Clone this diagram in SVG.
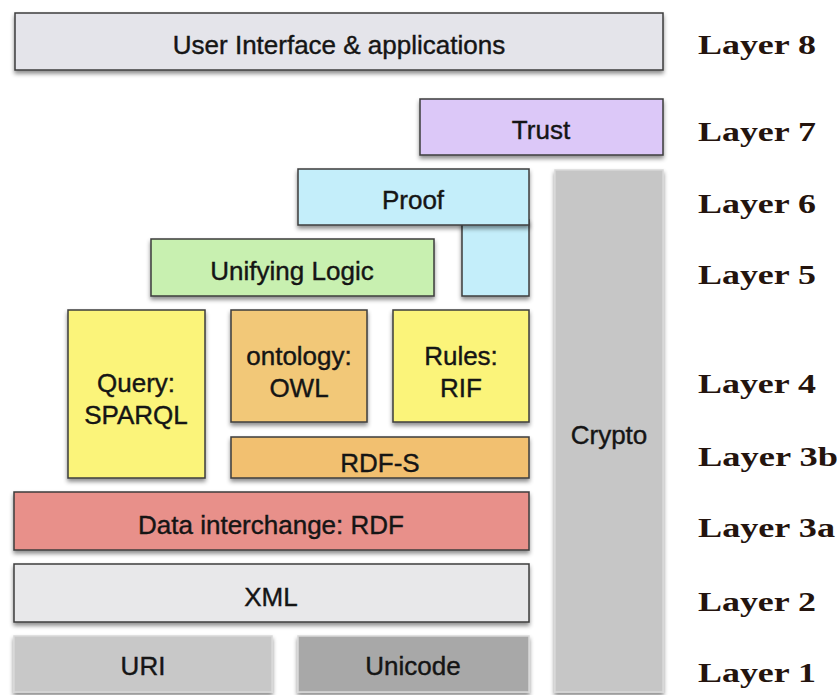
<svg xmlns="http://www.w3.org/2000/svg" width="837" height="695" viewBox="0 0 837 695">
<defs>
<filter id="sh" x="-10%" y="-20%" width="120%" height="150%">
<feDropShadow dx="0" dy="3" stdDeviation="2" flood-color="#000" flood-opacity="0.45"/>
</filter>
<style>
.b{stroke:#3c3c3c;stroke-width:1.5;filter:url(#sh)}
.l{stroke:#d8d8d8;stroke-width:1.5;filter:url(#sh)}
.t{font-family:"Liberation Sans",Arial,sans-serif;font-size:26px;fill:#151515;stroke:#151515;stroke-width:0.4;text-anchor:middle;dominant-baseline:central}
.lay{font-family:"Liberation Serif","Times New Roman",serif;font-weight:bold;font-size:28px;fill:#24140e;dominant-baseline:central}
</style>
</defs>
<rect width="837" height="695" fill="#fff"/>
<g id="ui"><rect class="b" x="15" y="13" width="648" height="57" fill="#e4e4ea"/><text class="t" x="339" y="45">User Interface &amp; applications</text></g>
<g id="trust"><rect class="b" x="420" y="99" width="243" height="56" fill="#dcc8f8"/><text class="t" x="541" y="130">Trust</text></g>
<g id="crypto"><rect class="l" x="555" y="170" width="108" height="522" fill="#c6c6c6"/><text class="t" x="609" y="435">Crypto</text></g>
<g id="proof"><rect class="b" x="462" y="220" width="67" height="76" fill="#c4eefa"/><rect class="b" x="298" y="169" width="231" height="56" fill="#c4eefa"/><text class="t" x="413" y="200">Proof</text></g>
<g id="logic"><rect class="b" x="151" y="239" width="283" height="57" fill="#c8f0b0"/><text class="t" x="292" y="271">Unifying Logic</text></g>
<g id="query"><rect class="b" x="68" y="310" width="137" height="168" fill="#fbf47a"/><text class="t" x="136" y="383">Query:</text><text class="t" x="136" y="415">SPARQL</text></g>
<g id="owl"><rect class="b" x="231" y="310" width="136" height="112" fill="#f2c878"/><text class="t" x="299" y="356">ontology:</text><text class="t" x="299" y="388">OWL</text></g>
<g id="rif"><rect class="b" x="393" y="310" width="136" height="112" fill="#fbf47a"/><text class="t" x="461" y="356">Rules:</text><text class="t" x="461" y="388">RIF</text></g>
<g id="rdfs"><rect class="b" x="231" y="437" width="298" height="41" fill="#f2c070"/><text class="t" x="380" y="463">RDF-S</text></g>
<g id="rdf"><rect class="b" x="14" y="492" width="515" height="58" fill="#e8908a"/><text class="t" x="271" y="525">Data interchange: RDF</text></g>
<g id="xml"><rect class="b" x="14" y="564" width="515" height="58" fill="#e8e8ea"/><text class="t" x="271" y="597">XML</text></g>
<g id="uri"><rect class="l" x="14" y="636" width="258" height="56" fill="#c8c8c8"/><text class="t" x="143" y="666">URI</text></g>
<g id="unicode"><rect class="l" x="298" y="636" width="231" height="56" fill="#a8a8a8"/><text class="t" x="413" y="666">Unicode</text></g>
<g id="connectors"/>
<g id="layers">
<text class="lay" x="698" y="44" textLength="118" lengthAdjust="spacingAndGlyphs">Layer 8</text>
<text class="lay" x="698" y="131" textLength="118" lengthAdjust="spacingAndGlyphs">Layer 7</text>
<text class="lay" x="698" y="203" textLength="118" lengthAdjust="spacingAndGlyphs">Layer 6</text>
<text class="lay" x="698" y="274" textLength="118" lengthAdjust="spacingAndGlyphs">Layer 5</text>
<text class="lay" x="698" y="383" textLength="118" lengthAdjust="spacingAndGlyphs">Layer 4</text>
<text class="lay" x="698" y="456" textLength="140" lengthAdjust="spacingAndGlyphs">Layer 3b</text>
<text class="lay" x="698" y="527" textLength="137" lengthAdjust="spacingAndGlyphs">Layer 3a</text>
<text class="lay" x="698" y="601" textLength="118" lengthAdjust="spacingAndGlyphs">Layer 2</text>
<text class="lay" x="698" y="672" textLength="118" lengthAdjust="spacingAndGlyphs">Layer 1</text>
</g>
</svg>
